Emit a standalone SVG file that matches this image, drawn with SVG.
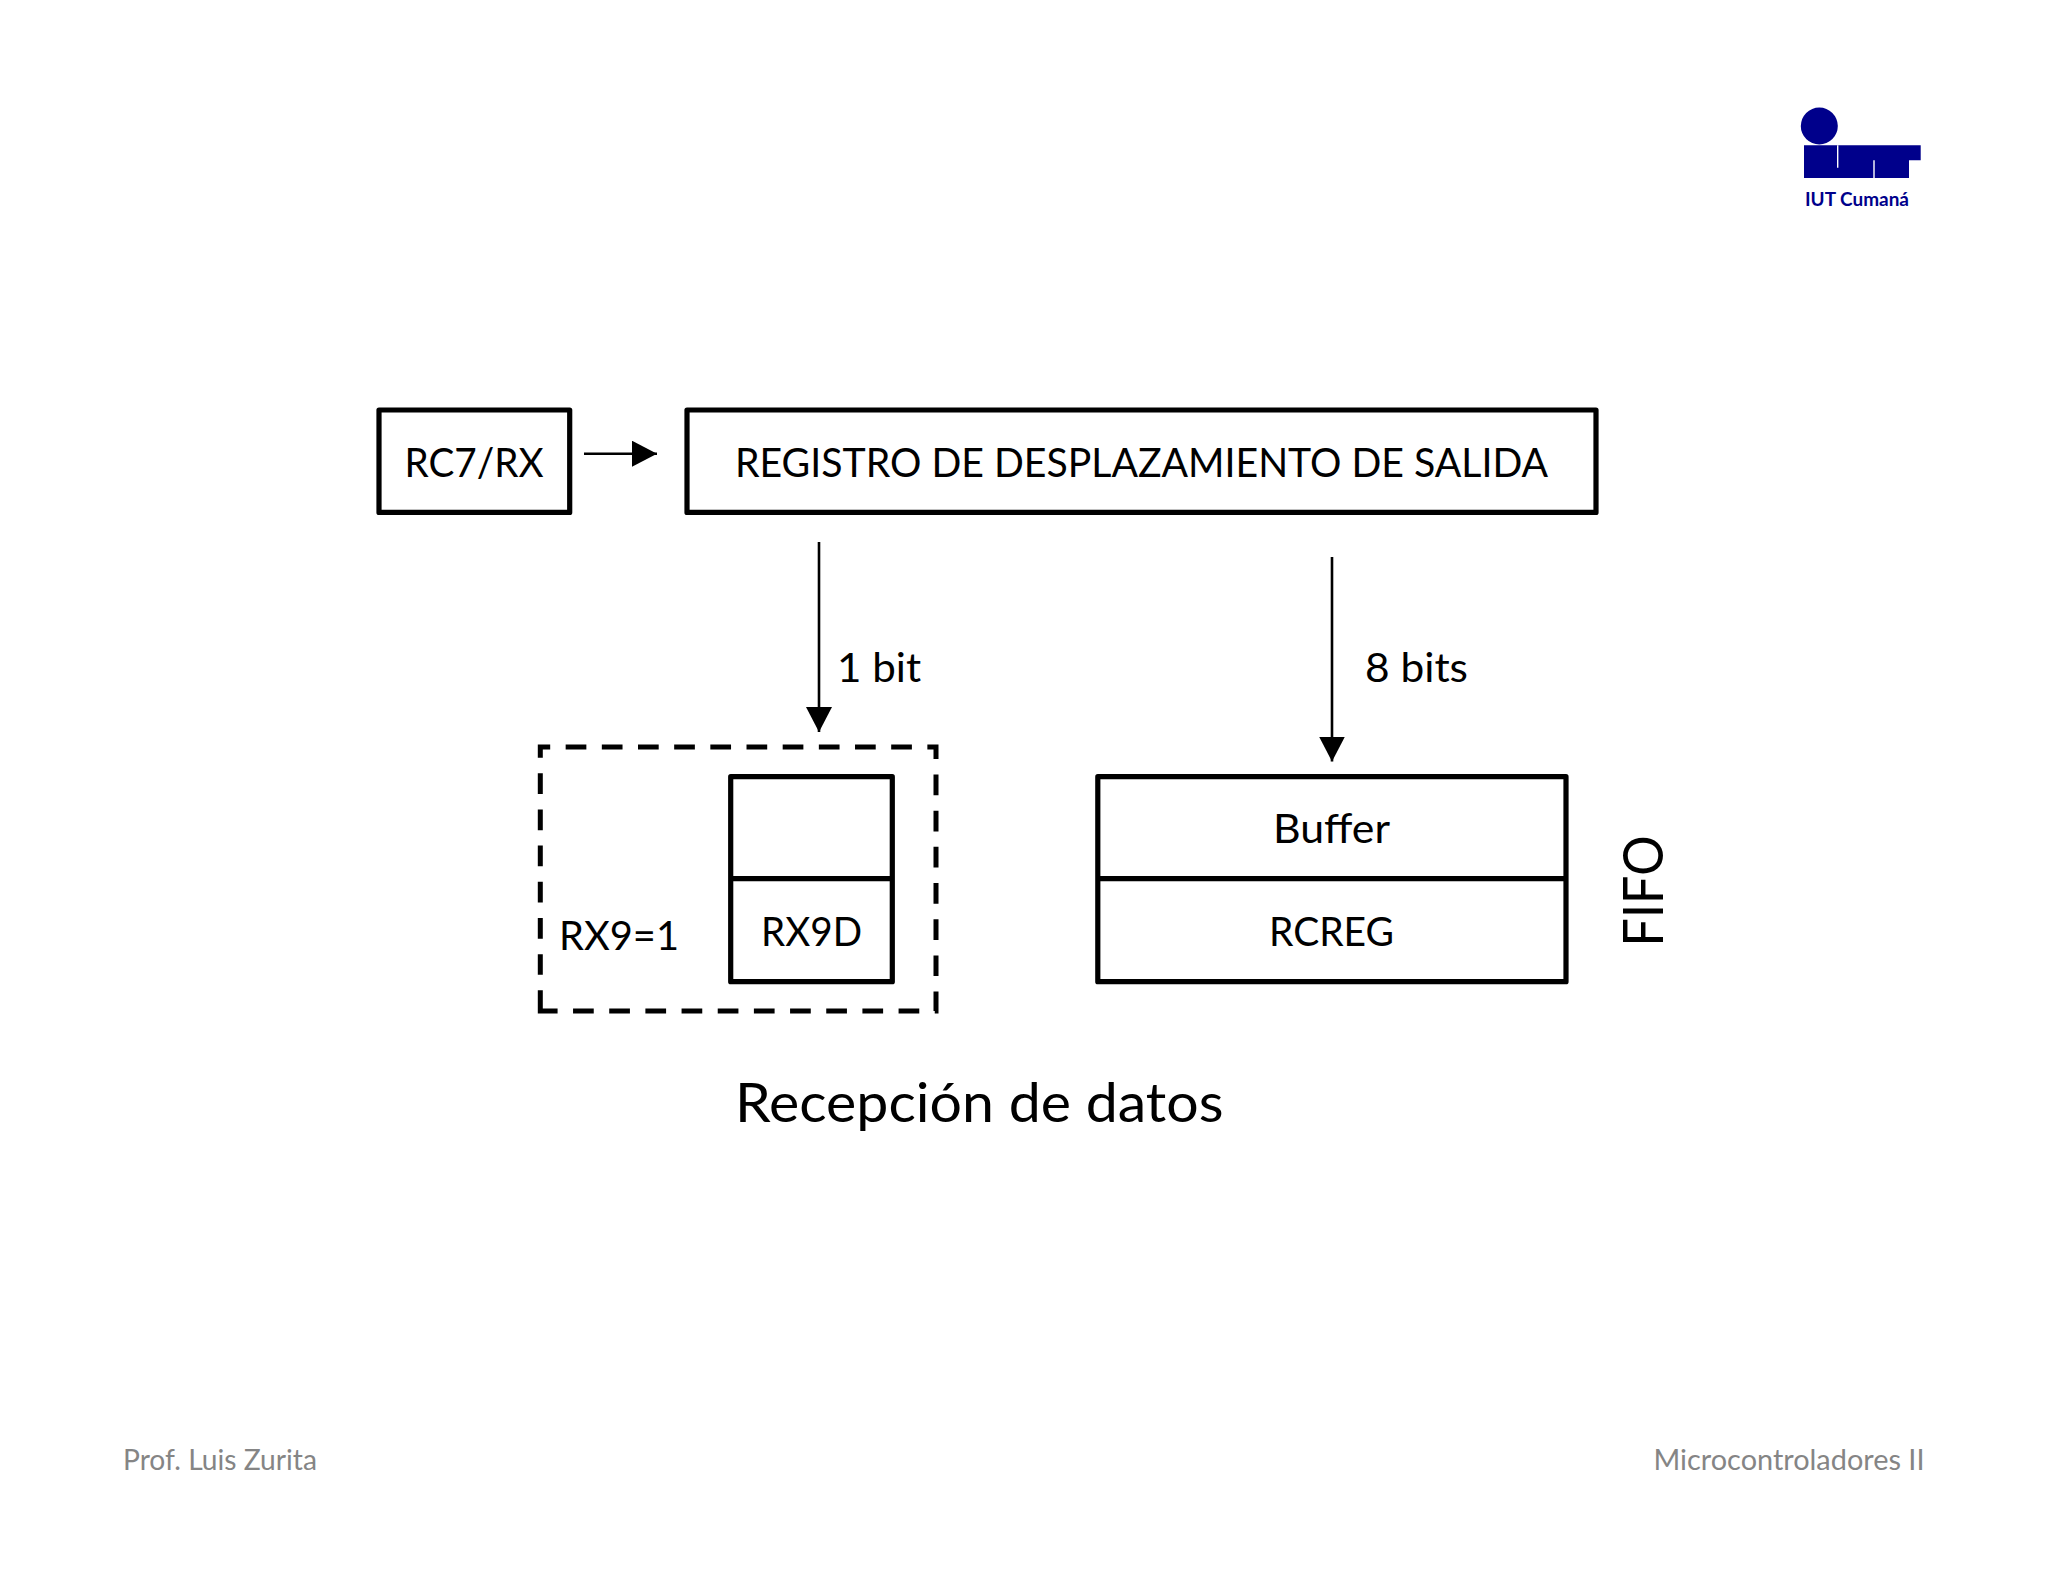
<svg xmlns="http://www.w3.org/2000/svg" width="2048" height="1582" viewBox="0 0 2048 1582">
<style>
text{font-family:Lato,"Liberation Sans",sans-serif;fill:#000}
.m{font-size:41px}
.box{fill:none;stroke:#000;stroke-width:5.2;stroke-linejoin:round}
.ln{fill:none;stroke:#000;stroke-width:2.6}
.ft{font-size:28.5px;fill:#858585}
</style>
<defs>
<marker id="ah" markerUnits="userSpaceOnUse" markerWidth="26" markerHeight="26" refX="25" refY="13" orient="auto"><path d="M0 0L25 13L0 26Z" fill="#000"/></marker>
</defs>
<rect width="2048" height="1582" fill="#fff"/>
<g id="logo">
<circle cx="1819.3" cy="126" r="18.5" fill="#00008b"/>
<path d="M1804 145.3H1920.7V160.3H1909V178H1804Z" fill="#00008b"/>
<path d="M1837.7 145.3V167.7M1874 160.3V178" stroke="#fff" stroke-width="1.4" fill="none"/>
<text x="1805" y="206" font-size="19.5" font-weight="700" style="fill:#00008b" textLength="104" lengthAdjust="spacingAndGlyphs">IUT Cumaná</text>
</g>
<g id="connectors">
<path class="ln" d="M584 453.7H657" marker-end="url(#ah)"/>
<path class="ln" d="M819 542V732" marker-end="url(#ah)"/>
<path class="ln" d="M1332 557V761.5" marker-end="url(#ah)"/>
</g>
<g id="rc7">
<rect class="box" x="379" y="410" width="190.7" height="102.4"/>
<text class="m" x="404.5" y="476.7" textLength="139" lengthAdjust="spacingAndGlyphs">RC7/RX</text>
</g>
<g id="registro">
<rect class="box" x="687" y="410" width="909" height="102.4"/>
<text class="m" x="735" y="476.7" textLength="813" lengthAdjust="spacingAndGlyphs">REGISTRO DE DESPLAZAMIENTO DE SALIDA</text>
</g>
<g id="label-1bit"><text class="m" x="837" y="682" textLength="84" lengthAdjust="spacingAndGlyphs">1 bit</text></g>
<g id="label-8bits"><text class="m" x="1365" y="682" textLength="103" lengthAdjust="spacingAndGlyphs">8 bits</text></g>
<g id="rx9-group">
<path d="M540.3 1011V747H936V1011Z" fill="none" stroke="#000" stroke-width="5" stroke-dasharray="20.7 15.47"/>
<text class="m" x="559" y="950" textLength="120" lengthAdjust="spacingAndGlyphs">RX9=1</text>
</g>
<g id="rx9d">
<rect class="box" x="730.7" y="776.7" width="161.6" height="205"/>
<path class="box" d="M730.7 878.7H892.3"/>
<text class="m" x="761" y="945.7" textLength="101" lengthAdjust="spacingAndGlyphs">RX9D</text>
</g>
<g id="fifo-buffer">
<rect class="box" x="1097.8" y="776.7" width="468.2" height="205"/>
<path class="box" d="M1097.8 878.7H1566"/>
<text class="m" x="1273" y="842.6" textLength="117" lengthAdjust="spacingAndGlyphs">Buffer</text>
<text class="m" x="1269" y="945.5" textLength="125" lengthAdjust="spacingAndGlyphs">RCREG</text>
</g>
<g id="fifo-label"><text transform="translate(1663 946.5) rotate(-90)" font-size="56" textLength="111" lengthAdjust="spacingAndGlyphs">FIFO</text></g>
<g id="title"><text x="735" y="1122" font-size="54" textLength="488.5" lengthAdjust="spacingAndGlyphs">Recepción de datos</text></g>
<g id="footer">
<text class="ft" x="123" y="1470" textLength="194" lengthAdjust="spacingAndGlyphs">Prof. Luis Zurita</text>
<text class="ft" x="1653.5" y="1470" textLength="271" lengthAdjust="spacingAndGlyphs">Microcontroladores II</text>
</g>
</svg>
